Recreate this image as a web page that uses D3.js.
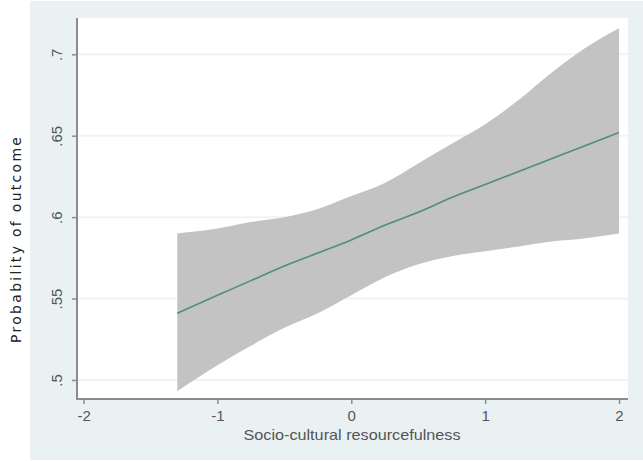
<!DOCTYPE html>
<html>
<head>
<meta charset="utf-8">
<script src="https://cdn.jsdelivr.net/npm/d3@7"></script>
<style>
  html, body { margin: 0; padding: 0; background: #ffffff; }
  svg { display: block; }
</style>
</head>
<body>
<div id="chart"></div>
<script>
// ---- Data ----
const xValues = [-1.3, -1, -0.75, -0.5, -0.25, 0, 0.25, 0.5, 0.75, 1, 1.25, 1.5, 1.75, 2];
const predicted = [0.541, 0.552, 0.561, 0.570, 0.578, 0.586, 0.595, 0.603, 0.612, 0.620, 0.628, 0.636, 0.644, 0.652];
const upperCI = [0.590, 0.593, 0.597, 0.600, 0.605, 0.613, 0.621, 0.633, 0.645, 0.657, 0.672, 0.689, 0.704, 0.716];
const lowerCI = [0.493, 0.509, 0.521, 0.532, 0.541, 0.552, 0.563, 0.571, 0.576, 0.579, 0.582, 0.585, 0.587, 0.590];
const xTicks = [-2, -1, 0, 1, 2];
const xTickLabels = ["-2", "-1", "0", "1", "2"];
const yTicks = [0.5, 0.55, 0.6, 0.65, 0.7];
const yTickLabels = [".5", ".55", ".6", ".65", ".7"];
const xTitle = "Socio-cultural resourcefulness";
const yTitle = "Probability of outcome";

// ---- Layout ----
const W = 643, H = 461;
const plot = { left: 77, right: 628, top: 18, bottom: 399 };

const svg = d3.select("#chart").append("svg")
  .attr("width", W).attr("height", H);

// outer panel
svg.append("rect")
  .attr("x", 30).attr("y", 1).attr("width", W - 30).attr("height", H - 2)
  .attr("fill", "#e9f1f3");

// plot region
svg.append("rect")
  .attr("x", plot.left).attr("y", plot.top)
  .attr("width", plot.right - plot.left).attr("height", plot.bottom - plot.top)
  .attr("fill", "#ffffff");

const x = d3.scaleLinear().domain([-2.049, 2.067]).range([plot.left, plot.right]);
const y = d3.scaleLinear().domain([0.4883, 0.7223]).range([plot.bottom, plot.top]);

// gridlines
svg.append("g").selectAll("line").data(yTicks).join("line")
  .attr("x1", plot.left).attr("x2", plot.right)
  .attr("y1", d => y(d)).attr("y2", d => y(d))
  .attr("stroke", "#eef4f5").attr("stroke-width", 2);

const rows = xValues.map((v, i) => ({ x: v, m: predicted[i], lo: lowerCI[i], hi: upperCI[i] }));

// CI band
svg.append("path").datum(rows)
  .attr("d", d3.area().curve(d3.curveMonotoneX)
    .x(d => x(d.x)).y0(d => y(d.lo)).y1(d => y(d.hi)))
  .attr("fill", "#c3c3c3");

// predicted line
svg.append("path").datum(rows)
  .attr("d", d3.line().curve(d3.curveMonotoneX).x(d => x(d.x)).y(d => y(d.m)))
  .attr("fill", "none").attr("stroke", "#4f8c82").attr("stroke-width", 1.6);

// axes
const axisColor = "#8c8c8c";
const labelColor = "#555555";
const fontFam = "'Liberation Sans', Arial, sans-serif";

const xAxis = d3.axisBottom(x).tickValues(xTicks)
  .tickFormat((d, i) => xTickLabels[i]).tickSize(5).tickSizeOuter(0).tickPadding(6);
const gx = svg.append("g").attr("transform", `translate(0,${plot.bottom})`).call(xAxis);
gx.select(".domain").remove();
gx.selectAll(".tick line").attr("stroke", axisColor).attr("stroke-width", 1.5);
gx.selectAll(".tick text").attr("fill", labelColor)
  .style("font-family", fontFam).style("font-size", "15px");
svg.append("line")
  .attr("x1", plot.left - 1).attr("x2", plot.right)
  .attr("y1", plot.bottom).attr("y2", plot.bottom)
  .attr("stroke", axisColor).attr("stroke-width", 2);

const yAxis = d3.axisLeft(y).tickValues(yTicks)
  .tickFormat((d, i) => yTickLabels[i]).tickSize(5).tickSizeOuter(0).tickPadding(0);
const gy = svg.append("g").attr("transform", `translate(${plot.left},0)`).call(yAxis);
gy.select(".domain").remove();
gy.selectAll(".tick line").attr("stroke", axisColor).attr("stroke-width", 1.5);
gy.selectAll(".tick text")
  .attr("x", 0).attr("dy", null)
  .attr("transform", "translate(-15,0) rotate(-90)")
  .attr("text-anchor", "middle")
  .attr("fill", labelColor)
  .style("font-family", fontFam).style("font-size", "15px");
svg.append("line")
  .attr("x1", plot.left).attr("x2", plot.left)
  .attr("y1", plot.top).attr("y2", plot.bottom + 1)
  .attr("stroke", axisColor).attr("stroke-width", 2);

// axis titles
svg.append("text")
  .attr("x", 352).attr("y", 440)
  .attr("text-anchor", "middle")
  .attr("fill", labelColor)
  .attr("textLength", 217).attr("lengthAdjust", "spacingAndGlyphs")
  .style("font-family", fontFam).style("font-size", "15px")
  .text(xTitle);

svg.append("text")
  .attr("transform", "translate(21,240) rotate(-90)")
  .attr("text-anchor", "middle")
  .attr("fill", "#222222")
  .attr("textLength", 206).attr("lengthAdjust", "spacing")
  .style("font-family", "'DejaVu Sans', sans-serif").style("font-size", "14px")
  .text(yTitle);
</script>
</body>
</html>
